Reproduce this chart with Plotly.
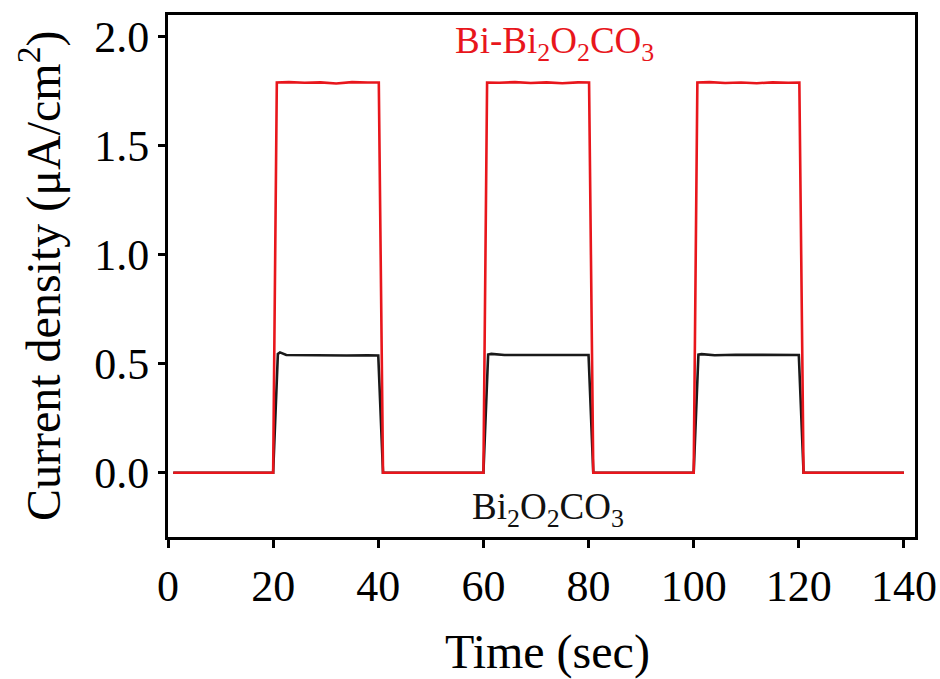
import plotly.graph_objects as go

# Photocurrent transient response (light on/off cycles of 20 s)
time_bi = [1, 20.0, 20.7, 23, 26, 29, 32, 35, 38, 40.1, 40.9,
           60.0, 60.7, 63, 66, 69, 72, 75, 78, 80.1, 80.9,
           100.0, 100.7, 103, 106, 109, 112, 115, 118, 120.1, 120.9, 140]
current_bi = [0, 0, 1.79, 1.792, 1.789, 1.791, 1.786, 1.792, 1.79, 1.79, 0,
              0, 1.79, 1.789, 1.792, 1.788, 1.791, 1.787, 1.791, 1.79, 0,
              0, 1.79, 1.792, 1.788, 1.79, 1.787, 1.791, 1.789, 1.79, 0, 0]

time_bioc = [1, 20.0, 20.9, 21.3, 22.5, 26, 30, 34, 38, 40.0, 40.9,
             60.0, 60.9, 61.5, 64, 68, 72, 76, 80.0, 80.9,
             100.0, 100.9, 101.5, 104, 108, 112, 116, 120.0, 120.9, 140]
current_bioc = [0, 0, 0.545, 0.552, 0.54, 0.539, 0.54, 0.538, 0.539, 0.538, 0,
                0, 0.542, 0.545, 0.54, 0.541, 0.539, 0.54, 0.54, 0,
                0, 0.542, 0.544, 0.539, 0.541, 0.54, 0.539, 0.54, 0, 0]

x_ticks = [0, 20, 40, 60, 80, 100, 120, 140]
y_ticks = [0.0, 0.5, 1.0, 1.5, 2.0]

serif = "Liberation Serif, Times New Roman, serif"

fig = go.Figure()
fig.add_trace(go.Scatter(x=time_bioc, y=current_bioc, mode="lines",
                         line=dict(color="#1a1a1a", width=2.6), name="Bi2O2CO3"))
fig.add_trace(go.Scatter(x=time_bi, y=current_bi, mode="lines",
                         line=dict(color="#e8161c", width=2.6), name="Bi-Bi2O2CO3"))

fig.add_annotation(x=73.5, y=1.97, text="Bi-Bi<sub>2</sub>O<sub>2</sub>CO<sub>3</sub>",
                   showarrow=False, font=dict(family=serif, size=37, color="#e8161c"))
fig.add_annotation(x=72.3, y=-0.17, text="Bi<sub>2</sub>O<sub>2</sub>CO<sub>3</sub>",
                   showarrow=False, font=dict(family=serif, size=37, color="#111111"))

# axis titles placed as annotations around the plot box
fig.add_annotation(xref="paper", yref="paper", x=0, y=0.5, xshift=-128,
                   xanchor="center", yanchor="middle", textangle=-90,
                   text="Current density (μA/cm<sup>2</sup>)", showarrow=False,
                   font=dict(family=serif, size=48, color="black"))
fig.add_annotation(xref="paper", yref="paper", x=0.508, y=0, yshift=-115,
                   xanchor="center", yanchor="middle",
                   text="Time (sec)", showarrow=False,
                   font=dict(family=serif, size=48, color="black"))

fig.update_layout(
    width=940, height=679,
    margin=dict(l=168, r=25, t=15, b=142),
    paper_bgcolor="white", plot_bgcolor="white",
    showlegend=False,
    font=dict(family=serif, color="black"),
)
fig.update_xaxes(
    range=[0, 142.1], tickvals=x_ticks, ticktext=[str(v) for v in x_ticks],
    ticks="outside", ticklen=8, tickwidth=2.5, tickcolor="black",
    showline=True, linewidth=3, linecolor="black", mirror=True,
    showgrid=False, zeroline=False, automargin=False,
    tickfont=dict(family=serif, size=44, color="black"),
)
fig.update_yaxes(
    range=[-0.295, 2.1], tickvals=y_ticks, ticktext=[f"{v:.1f}" for v in y_ticks],
    ticks="outside", ticklen=7, tickwidth=2.5, tickcolor="black",
    showline=True, linewidth=3, linecolor="black", mirror=True,
    showgrid=False, zeroline=False, automargin=False,
    tickfont=dict(family=serif, size=44, color="black"),
)

fig.write_html("out.html")
